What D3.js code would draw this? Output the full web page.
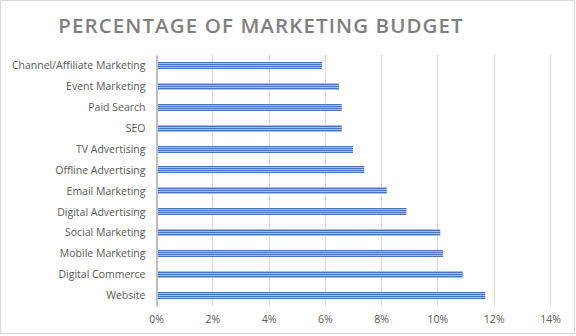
<!DOCTYPE html>
<html>
<head>
<meta charset="utf-8">
<script src="https://cdn.jsdelivr.net/npm/d3@7"></script>
<style>
  html, body { margin: 0; padding: 0; background: #fff; }
  svg { display: block; }
</style>
</head>
<body>
<svg id="chart" width="576" height="336"></svg>
<script>
// Share of marketing budget by channel (percent)
const categories = [
  "Channel/Affiliate Marketing",
  "Event Marketing",
  "Paid Search",
  "SEO",
  "TV Advertising",
  "Offline Advertising",
  "Email Marketing",
  "Digital Advertising",
  "Social Marketing",
  "Mobile Marketing",
  "Digital Commerce",
  "Website"
];
const values = [5.9, 6.5, 6.6, 6.6, 7.0, 7.4, 8.2, 8.9, 10.1, 10.2, 10.9, 11.7];
const tickValues = [0, 2, 4, 6, 8, 10, 12, 14];
const title = "PERCENTAGE OF MARKETING BUDGET";

const svg = d3.select("#chart");
const W = 576, H = 336;
const margin = { left: 156, right: 26, top: 55, bottom: 30 };

// outer chart border
svg.append("rect")
  .attr("x", 0.5).attr("y", 0.5)
  .attr("width", W - 2).attr("height", H - 3)
  .attr("fill", "#fff")
  .attr("stroke", "#d9d9d9");

// horizontal striped fill for the bars
const defs = svg.append("defs");
const pat = defs.append("pattern")
  .attr("id", "stripes")
  .attr("patternUnits", "userSpaceOnUse")
  .attr("width", 8).attr("height", 2);
pat.append("rect").attr("width", 8).attr("height", 2).attr("fill", "#a9bde8");
pat.append("rect").attr("width", 8).attr("height", 1).attr("fill", "#4a72c4");

const x = d3.scaleLinear()
  .domain([0, 14])
  .range([margin.left, W - margin.right]);

const y = d3.scaleBand()
  .domain(categories)
  .range([margin.top, H - margin.bottom])
  .paddingInner(0.66)
  .paddingOuter(0.33);

// title
svg.append("text")
  .attr("x", 261)
  .attr("y", 33)
  .attr("text-anchor", "middle")
  .attr("font-family", "'Open Sans', sans-serif")
  .attr("font-weight", 600)
  .attr("font-size", 20.5)
  .attr("letter-spacing", 1.1)
  .attr("fill", "#7f7f7f")
  .text(title);

// vertical gridlines
svg.append("g")
  .selectAll("line")
  .data(tickValues.filter(d => d > 0))
  .join("line")
  .attr("x1", d => Math.round(x(d)) + 0.5)
  .attr("x2", d => Math.round(x(d)) + 0.5)
  .attr("y1", margin.top)
  .attr("y2", H - margin.bottom)
  .attr("stroke", "#d9d9d9")
  .attr("stroke-width", 1);

// bars
svg.append("g")
  .selectAll("rect")
  .data(categories)
  .join("rect")
  .attr("x", x(0))
  .attr("y", d => Math.round(y(d)))
  .attr("width", (d, i) => x(values[i]) - x(0))
  .attr("height", 7)
  .attr("fill", "url(#stripes)");

// category axis
const yAxis = svg.append("g")
  .attr("transform", `translate(${Math.round(x(0)) + 0.5},0)`)
  .call(d3.axisLeft(y).tickSize(0).tickPadding(11));
yAxis.select(".domain")
  .attr("stroke", "#bfbfbf")
  .attr("stroke-width", 2);
yAxis.selectAll("text")
  .attr("font-family", "'Open Sans', sans-serif")
  .attr("font-size", 10.5)
  .attr("fill", "#595959")
  .attr("dy", "0.35em");

// value axis
const xAxis = svg.append("g")
  .attr("transform", `translate(0,${H - margin.bottom})`)
  .call(d3.axisBottom(x).tickValues(tickValues).tickSize(0).tickPadding(10)
    .tickFormat(d => d + "%"));
xAxis.select(".domain").remove();
xAxis.selectAll("text")
  .attr("font-family", "'Open Sans', sans-serif")
  .attr("font-size", 10.5)
  .attr("fill", "#595959");
</script>
</body>
</html>
